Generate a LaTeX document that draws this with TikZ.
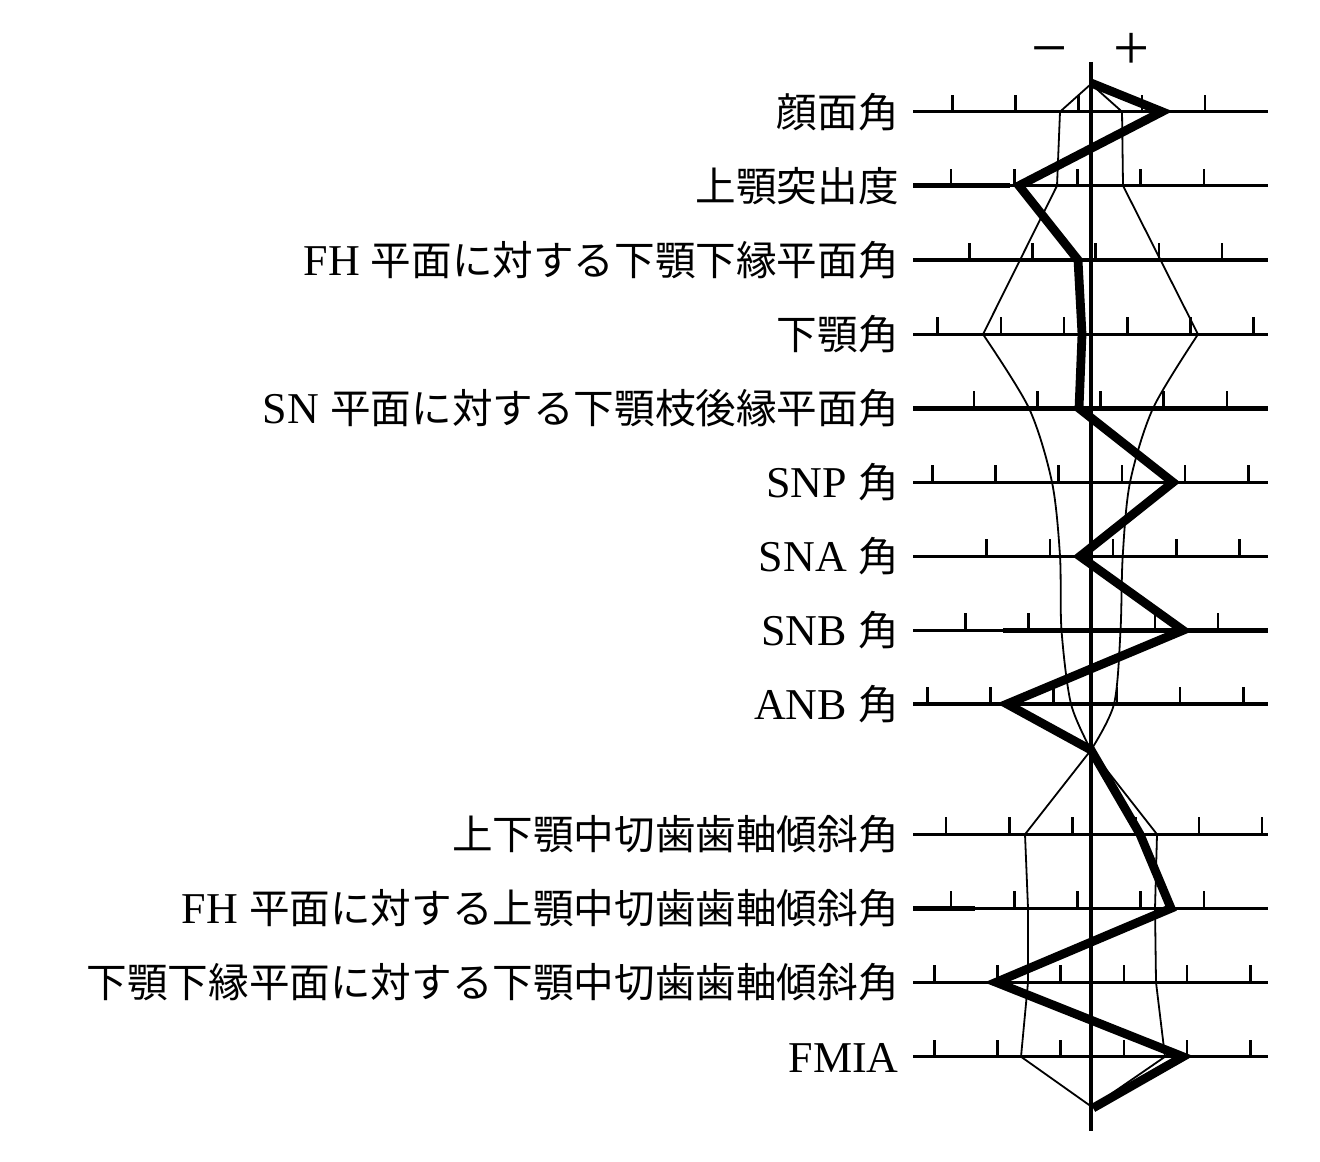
\documentclass[tikz,border=0pt]{standalone}
\usepackage{fontspec}
\setmainfont{Liberation Serif}
\newfontfamily\jpfont{Noto Sans CJK JP}
\newcommand{\kanji}[1]{{\jpfont\fontsize{20.3}{24}\selectfont #1}}
\tikzset{
  rowline/.style={line width=1.65pt},
  heavyrow/.style={line width=2.3pt},
  tickmark/.style={line width=1.3pt},
  normline/.style={line width=0.9pt, line join=round},
  patline/.style={line width=4.4pt, line join=miter},
  lbl/.style={anchor=base east, inner sep=0pt, font=\fontsize{22}{26}\selectfont},
  sign/.style={anchor=base, inner sep=0pt, font=\fontsize{32}{36}\selectfont}
}
\begin{document}
\begin{tikzpicture}[x=0.5pt,y=-0.5pt]
  \useasboundingbox (0,0) rectangle (1320,1161);
  % scales: y / first tick / last index
  \foreach \y/\s/\n in {111.7/952.3/4, 185.7/951/4, 260/969.3/4, 334.3/937.7/5,
      408.3/974/4, 482.3/932.3/5, 556.3/986.7/4, 630.3/965.3/4, 704/927.3/5,
      834.3/946/5, 908.3/951/4, 982.3/934.3/5, 1056.7/934.3/5}{
    \draw[rowline] (913,\y) -- (1268,\y);
    \foreach \k in {0,...,\n}
      \draw[tickmark] (\s+63.2*\k,\y) -- ++(0,-17);
  }
  \draw[heavyrow] (913,185.7) -- (1010,185.7);
  \draw[heavyrow] (913,408.3) -- (1268,408.3);
  \draw[heavyrow] (1003,630.3) -- (1268,630.3);
  \draw[heavyrow] (913,908.3) -- (975,908.3);
  \draw[line width=2pt] (1091,62) -- (1091,1131);
  \node[sign] (minus) at (1050,69) {−};
  \node[sign] (plus) at (1132,69) {+};
  % labels
  \node[lbl] (l1) at (899,127.2) {\kanji{顔面角}};
  \node[lbl] (l2) at (899,201.2) {\kanji{上顎突出度}};
  \node[lbl] (l3) at (899,275.5) {FH \kanji{平面に対する下顎下縁平面角}};
  \node[lbl] (l4) at (899,349.8) {\kanji{下顎角}};
  \node[lbl] (l5) at (899,423.8) {SN \kanji{平面に対する下顎枝後縁平面角}};
  \node[lbl] (l6) at (899,497.8) {SNP \kanji{角}};
  \node[lbl] (l7) at (899,571.8) {SNA \kanji{角}};
  \node[lbl] (l8) at (899,645.8) {SNB \kanji{角}};
  \node[lbl] (l9) at (899,719.5) {ANB \kanji{角}};
  \node[lbl] (l10) at (899,849.8) {\kanji{上下顎中切歯歯軸傾斜角}};
  \node[lbl] (l11) at (899,923.8) {FH \kanji{平面に対する上顎中切歯歯軸傾斜角}};
  \node[lbl] (l12) at (899,997.8) {\kanji{下顎下縁平面に対する下顎中切歯歯軸傾斜角}};
  \node[lbl] (l13) at (899,1072.2) {FMIA};
  % norm band
  \draw[normline] (1091,84) -- (1060,111.7) -- (1057,185.7) -- (983,334.3);
  \draw[normline] plot[smooth, tension=0.5] coordinates {(983,334.3) (1029,408.3)
      (1052,482.3) (1060,556.3) (1061.5,630.3) (1071,704) (1091,750)};
  \draw[normline] (1091,84) -- (1122,111.7) -- (1123,185.7) -- (1198,334.3);
  \draw[normline] plot[smooth, tension=0.5] coordinates {(1198,334.3) (1153,408.3)
      (1130,482.3) (1122.7,556.3) (1120.5,630.3) (1114,704) (1091,750)};
  \draw[normline] (1091,750) -- (1025,834.3) -- (1028,908.3) -- (1028,982.3)
      -- (1021,1056.7) -- (1092,1107);
  \draw[normline] (1091,750) -- (1157,834.3) -- (1155,908.3) -- (1156,982.3)
      -- (1165,1056.7) -- (1092,1107);
  % patient
  \draw[patline] (1091,83) -- (1162,111.7) -- (1019,185.7) -- (1078,260)
      -- (1082,334.3) -- (1079,408.3) -- (1173,482.3) -- (1080,556.3)
      -- (1183,630.3) -- (1007,704) -- (1091,750) -- (1140,834.3)
      -- (1171,908.3) -- (996,982.3) -- (1183,1056.7) -- (1093,1108);
\end{tikzpicture}
\end{document}
